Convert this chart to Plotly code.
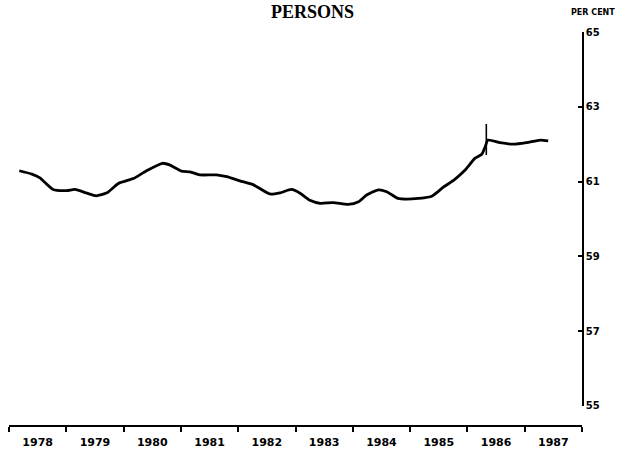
import plotly.graph_objects as go

# Participation rate, persons (per cent)
years = [1978.18, 1978.40, 1978.54, 1978.77, 1979.01, 1979.15, 1979.36, 1979.52, 1979.71, 1979.91,
         1980.17, 1980.40, 1980.68, 1980.81, 1981.01, 1981.16, 1981.33, 1981.62, 1981.80, 1982.03,
         1982.26, 1982.55, 1982.73, 1982.93, 1983.08, 1983.25, 1983.43, 1983.66, 1983.92, 1984.10,
         1984.24, 1984.45, 1984.59, 1984.79, 1984.94, 1985.14, 1985.38, 1985.58, 1985.78, 1985.96,
         1986.13, 1986.25, 1986.31, 1986.36, 1986.57, 1986.80, 1987.03, 1987.27, 1987.41]
rate = [61.29, 61.20, 61.10, 60.79, 60.76, 60.79, 60.69, 60.62, 60.70, 60.95,
        61.08, 61.29, 61.49, 61.44, 61.28, 61.26, 61.18, 61.18, 61.13, 61.02,
        60.92, 60.67, 60.70, 60.79, 60.69, 60.50, 60.42, 60.44, 60.39, 60.46,
        60.64, 60.78, 60.73, 60.55, 60.53, 60.55, 60.61, 60.85, 61.06, 61.31,
        61.62, 61.73, 61.93, 62.11, 62.04, 62.00, 62.04, 62.11, 62.09]

# series break marker
break_x = [1986.33, 1986.33]
break_y = [62.54, 61.71]

year_labels = ["1978", "1979", "1980", "1981", "1982", "1983", "1984", "1985", "1986", "1987"]
year_bounds = list(range(1978, 1989))
y_ticks = [55, 57, 59, 61, 63, 65]

fig = go.Figure()
fig.add_trace(go.Scatter(x=years, y=rate, mode="lines",
                         line=dict(color="black", width=2.8, shape="spline", smoothing=0.6),
                         hoverinfo="skip", showlegend=False))
fig.add_trace(go.Scatter(x=break_x, y=break_y, mode="lines",
                         line=dict(color="black", width=1.6),
                         hoverinfo="skip", showlegend=False))

fig.update_layout(
    width=634, height=453,
    margin=dict(l=9, r=52, t=32, b=27),
    paper_bgcolor="white", plot_bgcolor="white",
    showlegend=False,
    xaxis=dict(
        range=[1978, 1988], showgrid=False, zeroline=False, automargin=False,
        showline=True, linecolor="black", linewidth=2,
        anchor="free", position=0,
        tickmode="array", tickvals=[y + 0.5 for y in year_bounds[:-1]], ticktext=year_labels,
        ticks="", ticklabelstandoff=6,
        tickfont=dict(family="DejaVu Sans", size=11, color="black", weight="bold"),
        minor=dict(tickmode="array", tickvals=year_bounds, ticks="outside",
                   ticklen=5, tickwidth=1.5, tickcolor="black", showgrid=False),
    ),
    yaxis=dict(
        range=[55, 65], domain=[0.0508, 1], side="right", automargin=False,
        showgrid=False, zeroline=False,
        showline=True, linecolor="black", linewidth=1.5,
        tickmode="array", tickvals=y_ticks, ticktext=[str(v) for v in y_ticks],
        ticks="inside", ticklen=4, tickwidth=1.5, tickcolor="black",
        tickfont=dict(family="DejaVu Sans", size=10, color="black", weight="bold"),
    ),
    annotations=[
        dict(text="PERSONS", x=0.53, xref="paper", xanchor="center",
             y=1, yref="paper", yanchor="bottom", yshift=8,
             showarrow=False, font=dict(family="Liberation Serif", size=18, color="black", weight="bold")),
        dict(text="PER CENT", x=1.0, xref="paper", xanchor="center", xshift=11,
             y=1, yref="paper", yanchor="bottom", yshift=13,
             showarrow=False, font=dict(family="DejaVu Sans", size=8, color="black", weight="bold")),
    ],
)

fig.write_html("out.html", config={"displayModeBar": False},
               post_script="document.body.style.margin='0';document.body.style.overflow='hidden';")
